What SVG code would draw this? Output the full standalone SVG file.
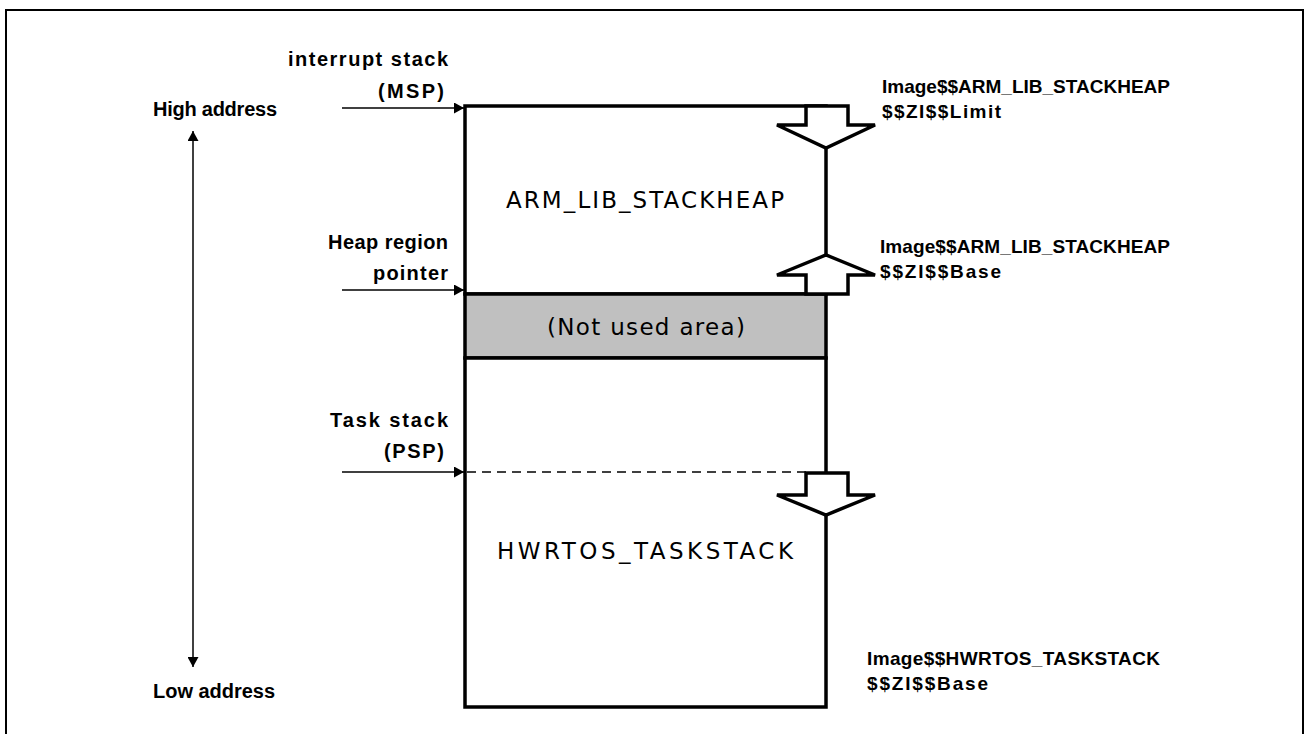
<svg xmlns="http://www.w3.org/2000/svg" width="1309" height="734" viewBox="0 0 1309 734">
<defs>
<marker id="ah" viewBox="0 0 10 11" refX="10" refY="5.5" markerWidth="10" markerHeight="11" markerUnits="userSpaceOnUse" orient="auto">
<path d="M0,0 L10,5.5 L0,11 Z" fill="#000"/>
</marker>
<marker id="ahs" viewBox="0 0 10 11" refX="10" refY="5.5" markerWidth="10" markerHeight="11" markerUnits="userSpaceOnUse" orient="auto-start-reverse">
<path d="M0,0 L10,5.5 L0,11 Z" fill="#000"/>
</marker>
</defs>
<style>
.lbl{font-family:"Liberation Sans",Arial,sans-serif;font-weight:bold;font-size:20px;fill:#000}
.rl{font-family:"Liberation Sans",Arial,sans-serif;font-weight:bold;font-size:19px;fill:#000}
.ctr{font-family:"DejaVu Sans",Verdana,sans-serif;font-size:23px;fill:#000;text-anchor:middle}
.box{stroke:#000;stroke-width:3.5;fill:#fff}
.blk{stroke:#000;stroke-width:3.5;fill:#fff;stroke-linejoin:miter}
.thin{stroke:#000;stroke-width:1.5;fill:none}
</style>
<rect x="0" y="0" width="1309" height="734" fill="#fff"/>
<rect x="6" y="10" width="1297" height="740" fill="none" stroke="#000" stroke-width="2"/>

<g id="memory">
<g id="region-stackheap">
<rect class="box" x="465" y="106" width="361" height="188"/>
<text class="ctr" x="645" y="208" textLength="278">ARM_LIB_STACKHEAP</text>
</g>
<g id="region-notused">
<rect x="465" y="294" width="361" height="64" fill="#c0c0c0" stroke="#000" stroke-width="3.5"/>
<text class="ctr" x="646" y="335" textLength="198">(Not used area)</text>
</g>
<g id="region-taskstack">
<rect class="box" x="465" y="358" width="361" height="349"/>
<text class="ctr" x="645" y="559" textLength="296">HWRTOS_TASKSTACK</text>
</g>
</g>

<g id="connectors">
<line class="thin" x1="193" y1="131" x2="193" y2="667" marker-start="url(#ahs)" marker-end="url(#ahs)"/>
<line class="thin" x1="342" y1="108" x2="464" y2="108" marker-end="url(#ah)"/>
<line class="thin" x1="342" y1="290" x2="464" y2="290" marker-end="url(#ah)"/>
<line class="thin" x1="342" y1="472" x2="464" y2="472" marker-end="url(#ah)"/>
<line x1="467" y1="472" x2="808" y2="472" stroke="#000" stroke-width="1.5" stroke-dasharray="9,6"/>
<polygon class="blk" points="806,106 848,106 848,125 875,125 826,148 777,125 806,125"/>
<polygon class="blk" points="806,294 848,294 848,275 875,275 826,255 777,275 806,275"/>
<polygon class="blk" points="806,473 848,473 848,495 875,495 826,515 777,495 806,495"/>
</g>

<g id="labels-left">
<text class="lbl" x="448" y="66" text-anchor="end" textLength="160">interrupt stack</text>
<text class="lbl" x="444" y="98" text-anchor="end" textLength="66">(MSP)</text>
<text class="lbl" x="153" y="116" textLength="124">High address</text>
<text class="lbl" x="153" y="698" textLength="122">Low address</text>
<text class="lbl" x="448" y="249" text-anchor="end" textLength="120">Heap region</text>
<text class="lbl" x="448" y="280" text-anchor="end" textLength="75">pointer</text>
<text class="lbl" x="448" y="427" text-anchor="end" textLength="118">Task stack</text>
<text class="lbl" x="444" y="458" text-anchor="end" textLength="60">(PSP)</text>
</g>

<g id="labels-right">
<text class="rl" x="882" y="93" textLength="288">Image$$ARM_LIB_STACKHEAP</text>
<text class="rl" x="882" y="118" textLength="119">$$ZI$$Limit</text>
<text class="rl" x="880" y="253" textLength="290">Image$$ARM_LIB_STACKHEAP</text>
<text class="rl" x="880" y="278" textLength="121">$$ZI$$Base</text>
<text class="rl" x="867" y="665" textLength="293">Image$$HWRTOS_TASKSTACK</text>
<text class="rl" x="867" y="690" textLength="121">$$ZI$$Base</text>
</g>
</svg>
